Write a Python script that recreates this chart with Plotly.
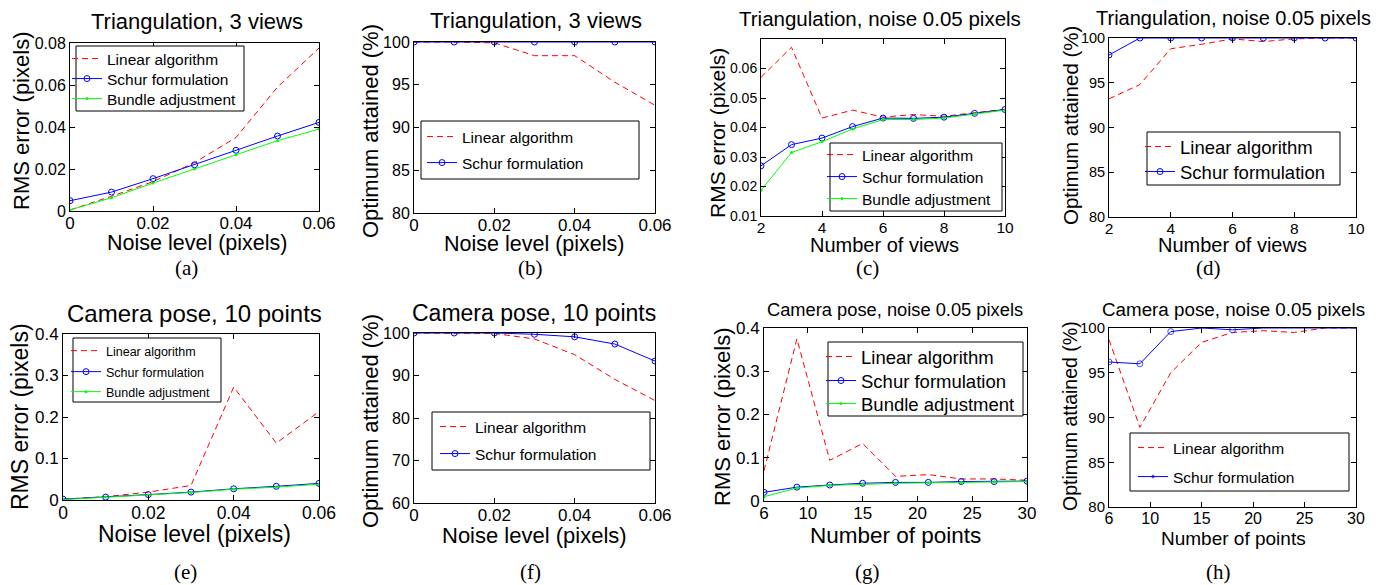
import plotly.graph_objects as go

W, H = 1390, 585

# ---------------- data ----------------
noise = [0, 0.01, 0.02, 0.03, 0.04, 0.05, 0.06]
views = [2, 3, 4, 5, 6, 7, 8, 9, 10]
points = [6, 9, 12, 15, 18, 21, 24, 27, 30]

a_linear = [0.0005, 0.007, 0.014, 0.023, 0.035, 0.059, 0.0776]
a_schur = [0.0049, 0.009, 0.0154, 0.022, 0.0289, 0.0357, 0.0422]
a_bundle = [0.0005, 0.0063, 0.0133, 0.020, 0.0268, 0.0335, 0.039]

b_linear = [100, 100, 99.9, 98.4, 98.4, 95.3, 92.6]
b_schur = [100, 100, 100, 100, 100, 100, 100]

c_linear = [0.057, 0.0672, 0.0432, 0.0459, 0.0435, 0.0444, 0.0438, 0.045, 0.0462]
c_schur = [0.027, 0.0342, 0.0364, 0.0403, 0.0432, 0.0431, 0.0435, 0.0448, 0.0461]
c_bundle = [0.0187, 0.0315, 0.0352, 0.0395, 0.0427, 0.0427, 0.0432, 0.0446, 0.0459]

d_linear = [93.2, 94.8, 98.8, 99.3, 99.9, 99.6, 99.9, 100, 100]
d_schur = [98.1, 100, 100, 100, 100, 100, 100, 100, 100]

e_linear = [0.002, 0.008, 0.019, 0.035, 0.272, 0.137, 0.213]
e_schur = [0.002, 0.007, 0.013, 0.019, 0.027, 0.033, 0.040]
e_bundle = [0.001, 0.007, 0.012, 0.018, 0.026, 0.031, 0.038]

f_linear = [100, 100, 99.9, 98.6, 94.9, 89.1, 84.1]
f_schur = [100, 100, 100, 99.7, 99.1, 97.4, 93.4]

g_linear = [0.07, 0.375, 0.094, 0.133, 0.057, 0.061, 0.051, 0.051, 0.048]
g_schur = [0.02, 0.032, 0.037, 0.041, 0.043, 0.043, 0.045, 0.045, 0.046]
g_bundle = [0.01, 0.03, 0.036, 0.039, 0.041, 0.042, 0.043, 0.044, 0.045]

h_linear = [98.7, 88.9, 95.0, 98.4, 99.5, 99.7, 99.5, 100, 100]
h_schur = [96.2, 96.0, 99.6, 100, 99.8, 100, 100, 100, 100]

LIN, SCH, BA = "Linear algorithm", "Schur formulation", "Bundle adjustment"

noise_ticks = [0, 0.02, 0.04, 0.06]
noise_labels = ["0", "0.02", "0.04", "0.06"]

# ---------------- panel layout ----------------
panels = [
    dict(cap="(a)", x=noise, series=[(LIN, a_linear), (SCH, a_schur), (BA, a_bundle)],
         dom=(70, 319, 43, 211), xr=[0, 0.06], xt=noise_ticks, xtt=noise_labels,
         yr=[0, 0.08], yt=[0, 0.02, 0.04, 0.06, 0.08], ytt=["0", "0.02", "0.04", "0.06", "0.08"],
         title="Triangulation, 3 views", tpos=(197, 22), tsz=22,
         xl="Noise level (pixels)", xlpos=(197, 243), xlsz=21.5,
         yl="RMS error (pixels)", ylpos=(22, 121), ylsz=22, xtsz=17, ytsz=16,
         box=(76, 46, 244, 111), ltx=107, rows=[59, 79, 99], lsz=15.5, cpos=(186, 268)),
    dict(cap="(b)", x=noise, series=[(LIN, b_linear), (SCH, b_schur)],
         dom=(414, 655, 42, 213), xr=[0, 0.06], xt=noise_ticks, xtt=noise_labels,
         yr=[80, 100], yt=[80, 85, 90, 95, 100], ytt=["80", "85", "90", "95", "100"],
         title="Triangulation, 3 views", tpos=(536, 21), tsz=22,
         xl="Noise level (pixels)", xlpos=(534, 244), xlsz=21.5,
         yl="Optimum attained (%)", ylpos=(370, 131), ylsz=22, xtsz=17, ytsz=16,
         box=(421, 121, 639, 179), ltx=462, rows=[137, 163], lsz=15.5, cpos=(530, 268)),
    dict(cap="(c)", x=views, series=[(LIN, c_linear), (SCH, c_schur), (BA, c_bundle)],
         dom=(761, 1005, 39, 216), xr=[2, 10], xt=[2, 4, 6, 8, 10], xtt=["2", "4", "6", "8", "10"],
         yr=[0.01, 0.07], yt=[0.01, 0.02, 0.03, 0.04, 0.05, 0.06],
         ytt=["0.01", "0.02", "0.03", "0.04", "0.05", "0.06"],
         title="Triangulation, noise 0.05 pixels", tpos=(880, 19), tsz=20.5,
         xl="Number of views", xlpos=(884, 245), xlsz=20,
         yl="RMS error (pixels)", ylpos=(718, 133), ylsz=21, xtsz=15.5, ytsz=14,
         box=(830, 143, 1002, 211), ltx=862, rows=[155, 177, 199], lsz=15.5, cpos=(867, 268)),
    dict(cap="(d)", x=views, series=[(LIN, d_linear), (SCH, d_schur)],
         dom=(1109, 1356, 38, 217), xr=[2, 10], xt=[2, 4, 6, 8, 10], xtt=["2", "4", "6", "8", "10"],
         yr=[80, 100], yt=[80, 85, 90, 95, 100], ytt=["80", "85", "90", "95", "100"],
         title="Triangulation, noise 0.05 pixels", tpos=(1233, 18), tsz=20,
         xl="Number of views", xlpos=(1232, 245), xlsz=20,
         yl="Optimum attained (%)", ylpos=(1070, 126), ylsz=20.5, xtsz=15.5, ytsz=14.5,
         box=(1147, 132, 1340, 185), ltx=1180, rows=[147, 172], lsz=18.5, cpos=(1208, 268)),
    dict(cap="(e)", x=noise, series=[(LIN, e_linear), (SCH, e_schur), (BA, e_bundle)],
         dom=(63, 319, 334, 500), xr=[0, 0.06], xt=noise_ticks, xtt=noise_labels,
         yr=[0, 0.4], yt=[0, 0.1, 0.2, 0.3, 0.4], ytt=["0", "0.1", "0.2", "0.3", "0.4"],
         title="Camera pose, 10 points", tpos=(195, 313), tsz=24,
         xl="Noise level (pixels)", xlpos=(195, 534), xlsz=23,
         yl="RMS error (pixels)", ylpos=(20, 417), ylsz=23, xtsz=17.5, ytsz=17,
         box=(73, 338, 221, 402), ltx=106, rows=[351, 372, 392], lsz=12.5, cpos=(185, 572)),
    dict(cap="(f)", x=noise, series=[(LIN, f_linear), (SCH, f_schur)],
         dom=(414, 655, 333, 503), xr=[0, 0.06], xt=noise_ticks, xtt=noise_labels,
         yr=[60, 100], yt=[60, 70, 80, 90, 100], ytt=["60", "70", "80", "90", "100"],
         title="Camera pose, 10 points", tpos=(534, 313), tsz=23,
         xl="Noise level (pixels)", xlpos=(534, 535), xlsz=22,
         yl="Optimum attained (%)", ylpos=(370, 421), ylsz=22, xtsz=17, ytsz=16,
         box=(432, 412, 650, 470), ltx=475, rows=[427, 454], lsz=15.5, cpos=(530, 572)),
    dict(cap="(g)", x=points, series=[(LIN, g_linear), (SCH, g_schur), (BA, g_bundle)],
         dom=(764, 1027, 328, 501), xr=[6, 30], xt=[6, 10, 15, 20, 25, 30],
         xtt=["6", "10", "15", "20", "25", "30"],
         yr=[0, 0.4], yt=[0, 0.1, 0.2, 0.3, 0.4], ytt=["0", "0.1", "0.2", "0.3", "0.4"],
         title="Camera pose, noise 0.05 pixels", tpos=(895, 309), tsz=18.3,
         xl="Number of points", xlpos=(896, 535), xlsz=22.5,
         yl="RMS error (pixels)", ylpos=(722, 417), ylsz=22, xtsz=17, ytsz=17,
         box=(828, 342, 1023, 416), ltx=861, rows=[357, 381, 404], lsz=18.5, cpos=(867, 572)),
    dict(cap="(h)", x=points, series=[(LIN, h_linear), (SCH, h_schur)],
         dom=(1109, 1356, 328, 507), xr=[6, 30], xt=[6, 10, 15, 20, 25, 30],
         xtt=["6", "10", "15", "20", "25", "30"],
         yr=[80, 100], yt=[80, 85, 90, 95, 100], ytt=["80", "85", "90", "95", "100"],
         title="Camera pose, noise 0.05 pixels", tpos=(1233, 309), tsz=18.8,
         xl="Number of points", xlpos=(1233, 538), xlsz=19,
         yl="Optimum attained (%)", ylpos=(1070, 416), ylsz=19.5, xtsz=16, ytsz=15,
         box=(1130, 433, 1349, 491), ltx=1173, rows=[448, 477], lsz=15.5, cpos=(1218, 572),
         hide_top_markers=True),
]

FONT = "Liberation Sans, Arial, Helvetica, sans-serif"
SERIF = "Liberation Serif, Times New Roman, serif"


def px(x):
    return x / W


def py(y):
    return 1 - y / H


def style(name, yvals, hide_top=False):
    if name == LIN:
        return dict(mode="lines", line=dict(color="#ff0000", width=1, dash="6px,4px"))
    if name == SCH:
        sizes = [0 if v >= 100 else 6 for v in yvals] if hide_top else 6
        return dict(mode="lines+markers", line=dict(color="#0000ff", width=1),
                    marker=dict(symbol="circle-open", size=sizes, color="#0000ff",
                                line=dict(width=1, color="#0000ff")))
    return dict(mode="lines+markers", line=dict(color="#00ff00", width=1),
                marker=dict(symbol="circle", size=3, color="#00ff00"))


fig = go.Figure()
layout = dict(width=W, height=H, margin=dict(l=0, r=0, t=0, b=0, pad=0, autoexpand=False),
              autosize=False, paper_bgcolor="white", plot_bgcolor="white",
              font=dict(family=FONT, color="black"))
annotations = []
shapes = []
leg_n = 0

for i, p in enumerate(panels, start=1):
    xa = "x" if i == 1 else f"x{i}"
    ya = "y" if i == 1 else f"y{i}"
    x0, x1, y0, y1 = p["dom"]
    axcommon = dict(showgrid=False, zeroline=False, showline=True, linecolor="black", linewidth=1,
                    mirror="allticks", ticks="inside", ticklen=5, tickwidth=1, tickcolor="black",
                    automargin=False)
    layout["xaxis" if i == 1 else f"xaxis{i}"] = dict(
        axcommon, domain=[px(x0), px(x1)], range=p["xr"], tickvals=p["xt"], ticktext=p["xtt"],
        anchor=ya, ticklabelstandoff=-3, tickfont=dict(size=p["xtsz"], family=FONT, color="black"))
    layout["yaxis" if i == 1 else f"yaxis{i}"] = dict(
        axcommon, domain=[py(y1), py(y0)], range=p["yr"], tickvals=p["yt"], ticktext=p["ytt"],
        anchor=xa, tickfont=dict(size=p["ytsz"], family=FONT, color="black"))

    bx0, by0, bx1, by1 = p["box"]
    shapes.append(dict(type="rect", xref="paper", yref="paper", x0=px(bx0), x1=px(bx1),
                       y0=py(by1), y1=py(by0), fillcolor="white",
                       line=dict(color="black", width=1), layer="above"))

    for (name, yv), ry in zip(p["series"], p["rows"]):
        leg_n += 1
        lid = "legend" if leg_n == 1 else f"legend{leg_n}"
        fig.add_trace(go.Scatter(x=p["x"], y=yv, name=name, xaxis=xa, yaxis=ya, legend=lid,
                                 showlegend=True, **style(name, yv, p.get("hide_top_markers", False))))
        layout[lid] = dict(x=px(p["ltx"] - 40), y=py(ry), xanchor="left", yanchor="middle",
                           bgcolor="rgba(0,0,0,0)", borderwidth=0, itemwidth=30,
                           font=dict(size=p["lsz"], family=FONT, color="black"))

    def ann(text, pos, size, angle=0, family=FONT):
        annotations.append(dict(text=text, x=px(pos[0]), y=py(pos[1]), xref="paper", yref="paper",
                                showarrow=False, xanchor="center", yanchor="middle", textangle=angle,
                                font=dict(size=size, family=family, color="black")))

    ann(p["title"], p["tpos"], p["tsz"])
    ann(p["xl"], p["xlpos"], p["xlsz"])
    ann(p["yl"], p["ylpos"], p["ylsz"], angle=-90)
    ann(p["cap"], p["cpos"], 21, family=SERIF)

layout["annotations"] = annotations
layout["shapes"] = shapes
fig.update_layout(**layout)
fig.write_html("out.html", config={"displayModeBar": False},
               post_script="document.body.style.margin='0';document.body.style.padding='0';"
                           "document.body.style.overflow='hidden';")
